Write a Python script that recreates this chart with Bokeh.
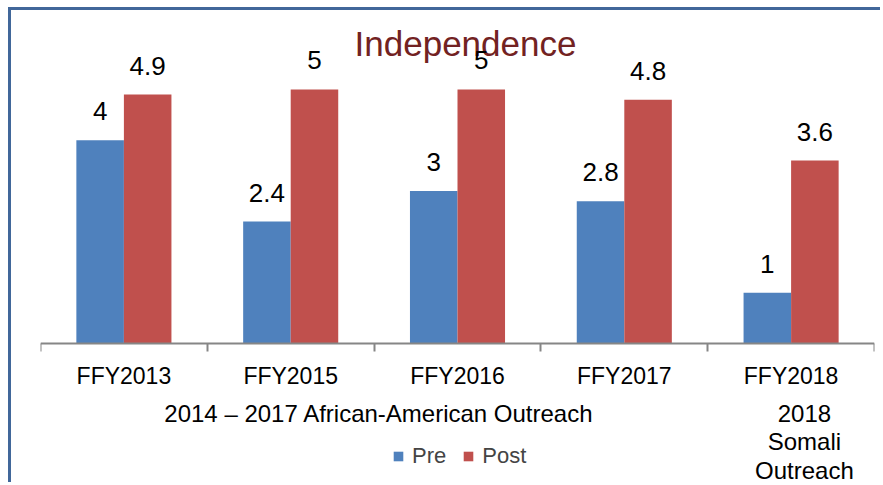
from bokeh.plotting import figure
from bokeh.models import (Range1d, LinearAxis, FixedTicker,
                          ColumnDataSource, Label, Legend, LegendItem)
from bokeh.transform import dodge
from bokeh.core.properties import value
from bokeh.embed import file_html
from bokeh.resources import INLINE

# ---- data ----
categories = ["FFY2013", "FFY2015", "FFY2016", "FFY2017", "FFY2018"]
pre = [4, 2.4, 3, 2.8, 1]
post = [4.9, 5, 5, 4.8, 3.6]
series_names = ["Pre", "Post"]
title_text = "Independence"
group1_label = "2014 \u2013 2017 African-American Outreach"
group2_lines = ["2018", "Somali", "Outreach"]

SANS = "Liberation Sans"
BLUE = "#4f81bd"
RED = "#c0504d"
AXIS_GRAY = "#868686"

n = len(categories)
centers = [i + 0.5 for i in range(n)]  # category slot centres on a 0..n axis

src = ColumnDataSource(dict(
    xc=centers, cat=categories, pre=pre, post=post,
    pre_lbl=[f"{v:g}" for v in pre], post_lbl=[f"{v:g}" for v in post]))

p = figure(width=872, height=475,
           x_range=Range1d(0, n),
           y_range=Range1d(-2.795, 6.555),
           output_backend="svg", toolbar_location=None,
           x_axis_location=None, y_axis_location=None,
           min_border_left=29, min_border_right=9,
           min_border_top=0, min_border_bottom=0)
p.grid.visible = False
p.outline_line_color = None
p.background_fill_color = "white"
p.border_fill_color = "white"
p.styles = {"border-top": "3px solid #41679a", "border-left": "3px solid #41679a",
            "margin-left": "8px", "margin-top": "7px"}

W = 0.285
r_pre = p.vbar(x=dodge("xc", -W / 2), top="pre", width=W,
               source=src, fill_color=BLUE, line_color=None)
r_post = p.vbar(x=dodge("xc", W / 2), top="post", width=W,
                source=src, fill_color=RED, line_color=None)

# value labels
for col, off in (("pre", -W / 2), ("post", W / 2)):
    p.text(x=dodge("xc", off), y=col, text=col + "_lbl", source=src,
           text_align="center", text_baseline="alphabetic", y_offset=-29,
           text_font=value(SANS), text_font_size=value("26px"), text_color="black")

# boundary tick axis (ticks between categories), drawn at y = 0
tick_axis = LinearAxis(ticker=FixedTicker(ticks=list(range(n + 1))),
                       fixed_location=0,
                       major_label_text_font_size="0px",
                       major_label_overrides={i: "" for i in range(n + 1)},
                       axis_line_color=AXIS_GRAY, axis_line_width=2,
                       major_tick_line_color=AXIS_GRAY, major_tick_line_width=2,
                       major_tick_in=0, major_tick_out=8,
                       minor_tick_line_color=None, major_label_standoff=0)
p.add_layout(tick_axis, "below")

# category label axis (labels centred in each slot)
cat_axis = LinearAxis(ticker=FixedTicker(ticks=centers),
                      fixed_location=0,
                      major_label_overrides={c: name for c, name in zip(centers, categories)},
                      axis_line_color=None, major_tick_line_color=None,
                      major_tick_in=0, major_tick_out=0,
                      minor_tick_line_color=None,
                      major_label_text_font=SANS,
                      major_label_text_font_size="23px",
                      major_label_text_color="black",
                      major_label_standoff=19)
p.add_layout(cat_axis, "below")

# title
p.add_layout(Label(x=2.548, y=5.9, text=title_text, text_align="center",
                   text_baseline="alphabetic", text_font=SANS, text_font_size="35px",
                   text_color="#722222", level="underlay"))

# group labels
GY = -1.37
LINE = 0.567
p.add_layout(Label(x=2.03, y=GY, text=group1_label, text_align="center",
                   text_baseline="alphabetic", text_font=SANS, text_font_size="24px",
                   text_color="black"))
for i, line in enumerate(group2_lines):
    p.add_layout(Label(x=4.58, y=GY - i * LINE, text=line, text_align="center",
                       text_baseline="alphabetic", text_font=SANS,
                       text_font_size="24px", text_color="black"))

legend = Legend(items=[LegendItem(label=series_names[0], renderers=[r_pre]),
                       LegendItem(label=series_names[1], renderers=[r_post])],
                orientation="horizontal", location=(352, 16),
                padding=0, margin=0, border_line_color=None,
                background_fill_alpha=0, glyph_width=12, glyph_height=12,
                label_standoff=8, spacing=16,
                label_text_font=SANS, label_text_font_size="22px")
p.add_layout(legend, "center")

open("out.html", "w").write(file_html(p, INLINE))
